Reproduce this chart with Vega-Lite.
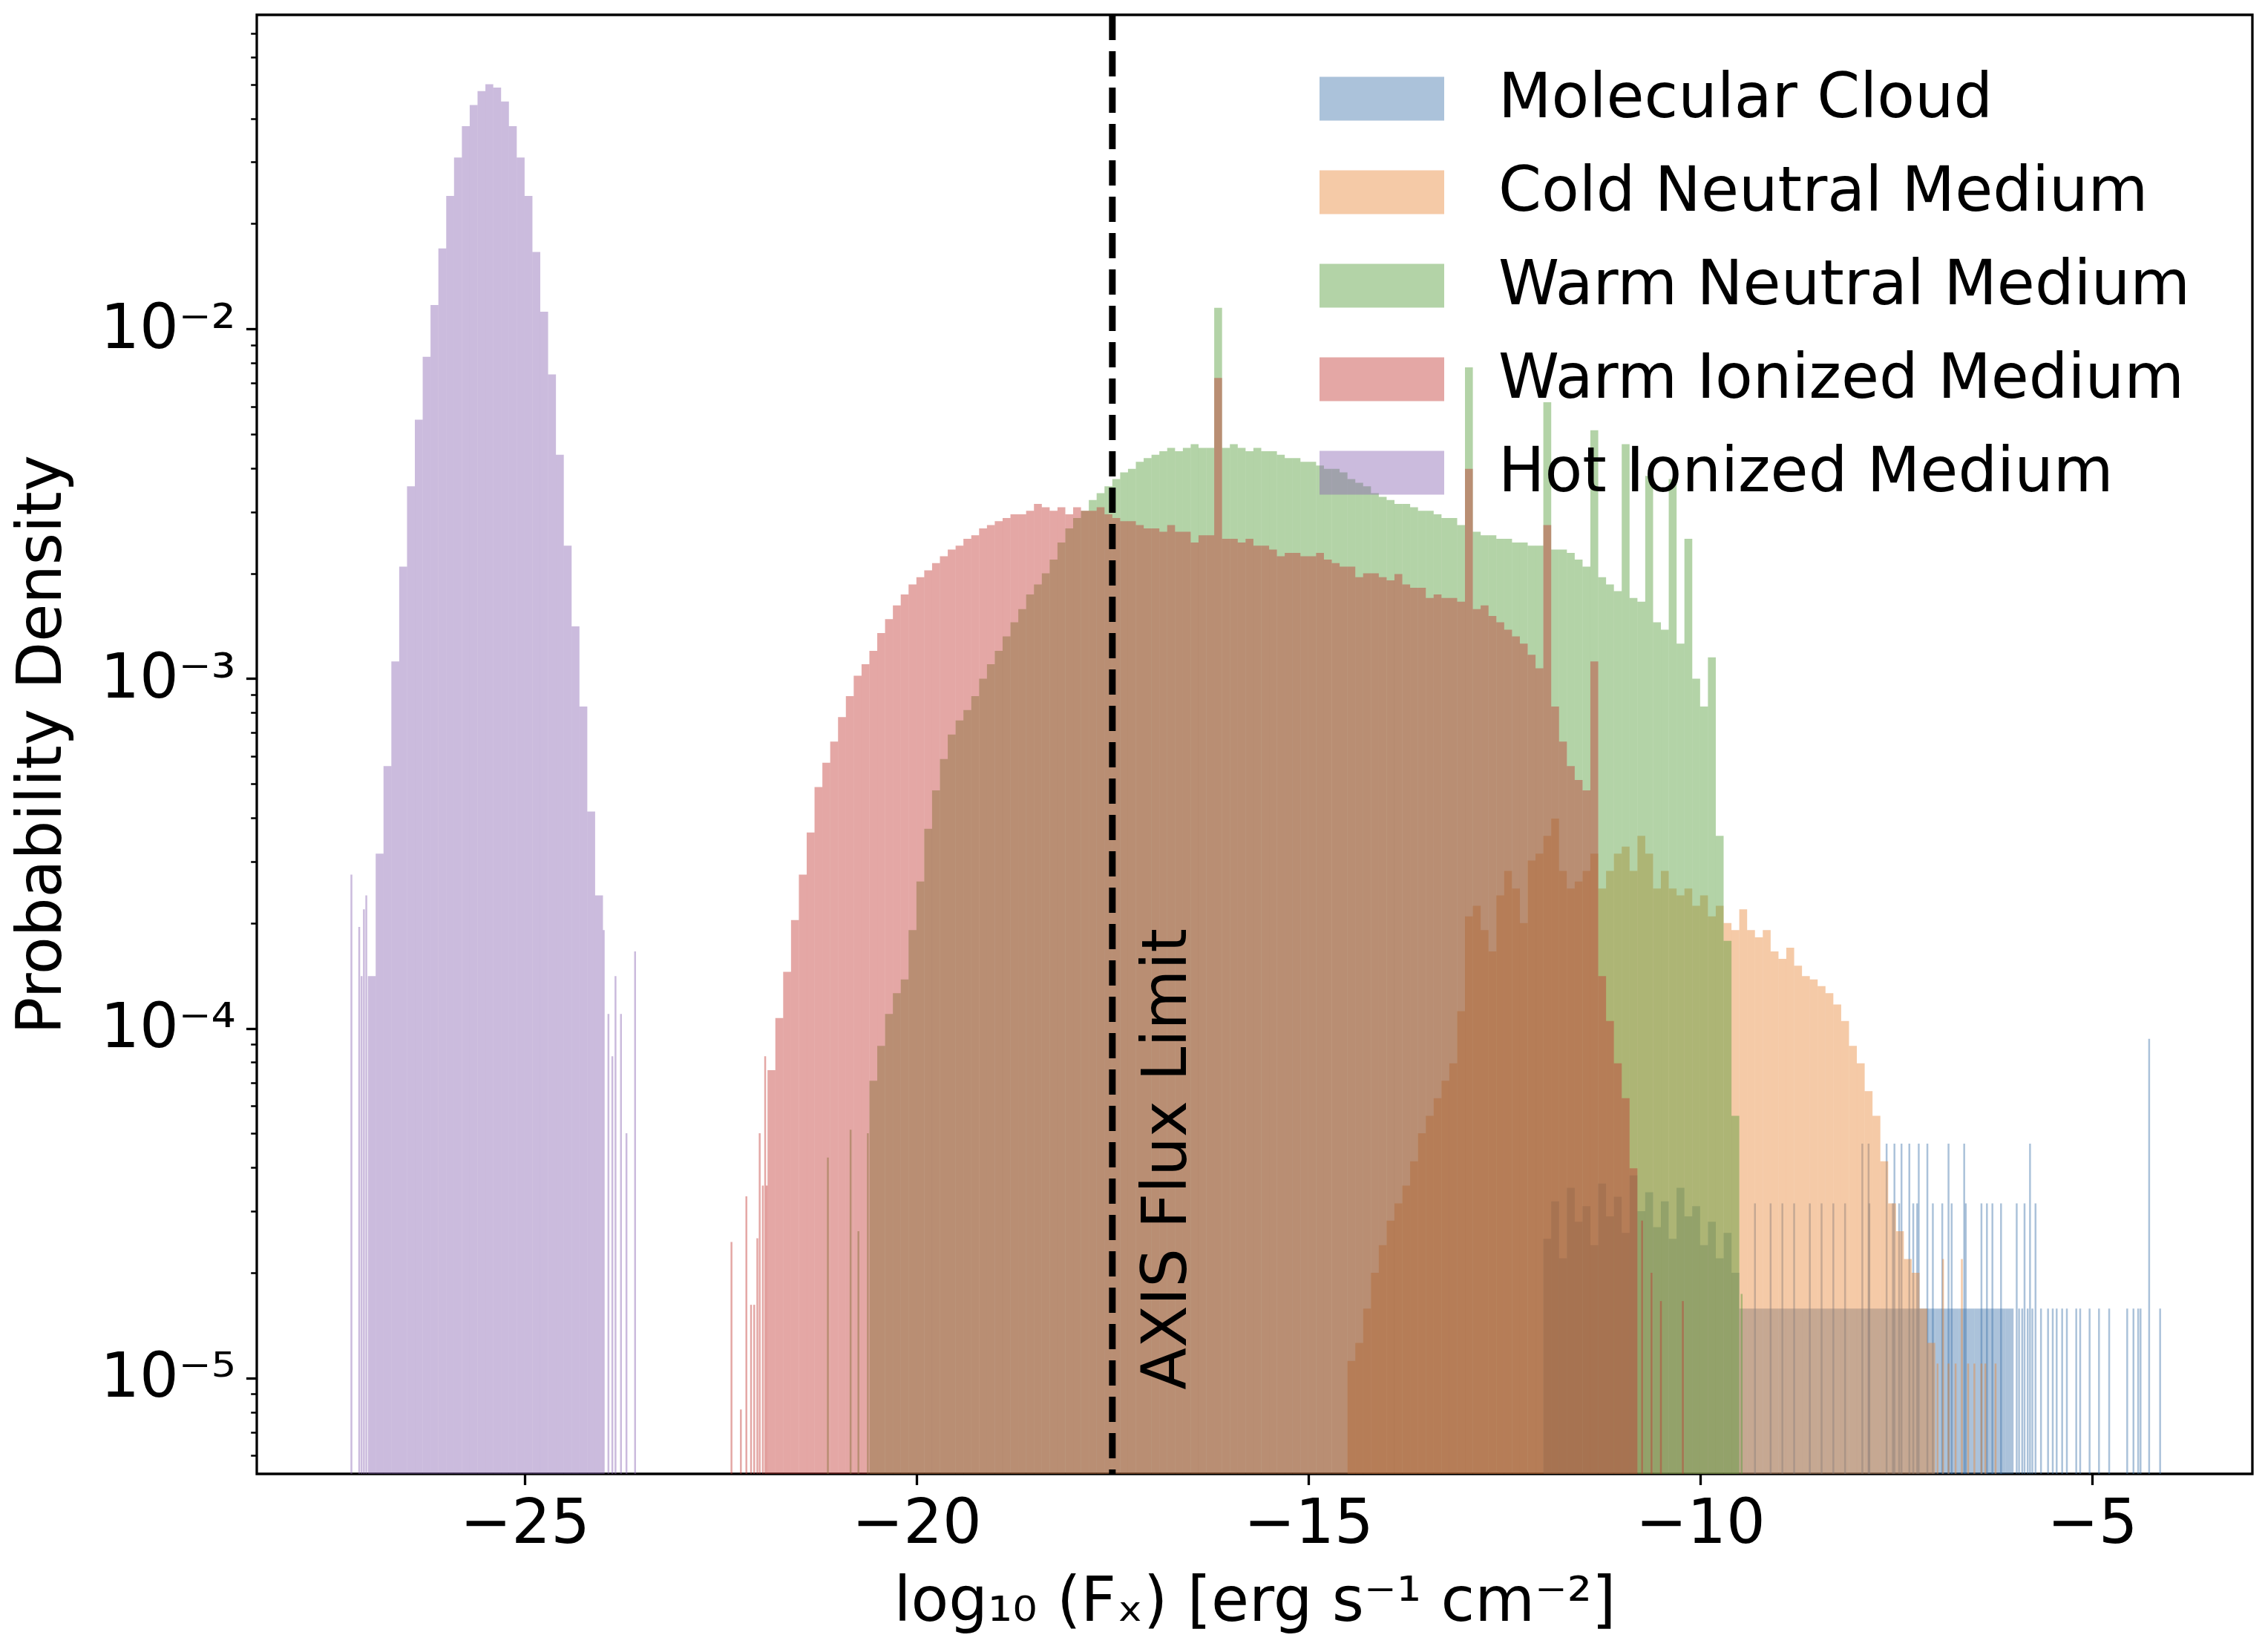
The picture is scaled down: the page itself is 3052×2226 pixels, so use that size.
{
  "$schema": "https://vega.github.io/schema/vega-lite/v6.json",
  "width": 2689,
  "height": 1966,
  "autosize": {"type": "none"},
  "padding": {"left": 346, "top": 20, "right": 17, "bottom": 240},
  "background": "white",
  "config": {
    "font": "DejaVu Sans",
    "view": {"stroke": "black", "strokeWidth": 3.3},
    "axis": {"domain": false, "grid": false, "tickColor": "black", "labelColor": "black", "titleColor": "black", "labelFont": "DejaVu Sans", "titleFont": "DejaVu Sans", "labelFontSize": 83, "titleFontSize": 83, "titleFontWeight": "normal", "labelLimit": 600}
  },
  "datasets": {
    "mc": [
      {"x":-11.95,"y":2.5e-5},{"x":-11.85,"y":3.2e-5},{"x":-11.75,"y":2.2e-5},{"x":-11.65,"y":3.5e-5},{"x":-11.55,"y":2.8e-5},
      {"x":-11.45,"y":3.1e-5},{"x":-11.35,"y":2.4e-5},{"x":-11.25,"y":3.6e-5},{"x":-11.15,"y":2.9e-5},{"x":-11.05,"y":3.3e-5},
      {"x":-10.95,"y":2.6e-5},{"x":-10.85,"y":3.8e-5},{"x":-10.75,"y":3.0e-5},{"x":-10.65,"y":3.4e-5},{"x":-10.55,"y":2.7e-5},
      {"x":-10.45,"y":3.2e-5},{"x":-10.35,"y":2.5e-5},{"x":-10.25,"y":3.5e-5},{"x":-10.15,"y":2.9e-5},{"x":-10.05,"y":3.1e-5},
      {"x":-9.95,"y":2.4e-5},{"x":-9.85,"y":2.8e-5},{"x":-9.75,"y":2.2e-5},{"x":-9.65,"y":2.6e-5},{"x":-9.55,"y":2.0e-5},
      {"x":-9.45,"y":1.58e-5},{"x":-9.35,"y":1.58e-5},{"x":-9.25,"y":1.58e-5},{"x":-9.15,"y":1.58e-5},{"x":-9.05,"y":1.58e-5},
      {"x":-8.95,"y":1.58e-5},{"x":-8.85,"y":1.58e-5},{"x":-8.75,"y":1.58e-5},{"x":-8.65,"y":1.58e-5},{"x":-8.55,"y":1.58e-5},
      {"x":-8.45,"y":1.58e-5},{"x":-8.35,"y":1.58e-5},{"x":-8.25,"y":1.58e-5},{"x":-8.15,"y":1.58e-5},{"x":-8.05,"y":1.58e-5},
      {"x":-7.95,"y":1.58e-5},{"x":-7.85,"y":1.58e-5},{"x":-7.75,"y":1.58e-5},{"x":-7.65,"y":1.58e-5},{"x":-7.55,"y":1.58e-5},
      {"x":-7.45,"y":1.58e-5},{"x":-7.35,"y":1.58e-5},{"x":-7.25,"y":1.58e-5},{"x":-7.15,"y":1.58e-5},{"x":-7.05,"y":1.58e-5},
      {"x":-6.95,"y":1.58e-5},{"x":-6.85,"y":1.58e-5},{"x":-6.75,"y":1.58e-5},{"x":-6.65,"y":1.58e-5},{"x":-6.55,"y":1.58e-5},
      {"x":-6.45,"y":1.58e-5},{"x":-6.35,"y":1.58e-5},{"x":-6.25,"y":1.58e-5},{"x":-6.15,"y":1.58e-5},{"x":-6.05,"y":1.58e-5}
    ],
    "mcl": [
      {"x":-9.3,"y":3.16e-5},{"x":-9.1,"y":3.16e-5},{"x":-8.95,"y":3.16e-5},{"x":-8.8,"y":3.16e-5},{"x":-8.6,"y":3.16e-5},
      {"x":-8.45,"y":3.16e-5},{"x":-8.3,"y":3.16e-5},{"x":-8.15,"y":3.16e-5},{"x":-7.84,"y":3.16e-5},{"x":-7.54,"y":3.16e-5},
      {"x":-7.46,"y":3.16e-5},{"x":-7.28,"y":3.16e-5},{"x":-7.23,"y":3.16e-5},{"x":-7.03,"y":3.16e-5},{"x":-6.91,"y":3.16e-5},
      {"x":-6.79,"y":3.16e-5},{"x":-6.61,"y":3.16e-5},{"x":-6.41,"y":3.16e-5},{"x":-6.34,"y":3.16e-5},{"x":-6.27,"y":3.16e-5},
      {"x":-6.16,"y":3.16e-5},{"x":-5.96,"y":3.16e-5},{"x":-5.86,"y":3.16e-5},{"x":-5.72,"y":3.16e-5},
      {"x":-7.93,"y":4.68e-5},{"x":-7.85,"y":4.68e-5},{"x":-7.62,"y":4.68e-5},{"x":-7.52,"y":4.68e-5},{"x":-7.43,"y":4.68e-5},
      {"x":-7.33,"y":4.68e-5},{"x":-7.21,"y":4.68e-5},{"x":-7.1,"y":4.68e-5},{"x":-6.83,"y":4.68e-5},{"x":-6.63,"y":4.68e-5},
      {"x":-5.79,"y":4.68e-5},
      {"x":-5.93,"y":1.58e-5},{"x":-5.89,"y":1.58e-5},{"x":-5.82,"y":1.58e-5},{"x":-5.76,"y":1.58e-5},
      {"x":-5.65,"y":1.58e-5},{"x":-5.56,"y":1.58e-5},{"x":-5.5,"y":1.58e-5},{"x":-5.45,"y":1.58e-5},{"x":-5.38,"y":1.58e-5},
      {"x":-5.32,"y":1.58e-5},{"x":-5.2,"y":1.58e-5},{"x":-5.15,"y":1.58e-5},{"x":-5.03,"y":1.58e-5},{"x":-4.91,"y":1.58e-5},
      {"x":-4.78,"y":1.58e-5},{"x":-4.55,"y":1.58e-5},{"x":-4.47,"y":1.58e-5},{"x":-4.41,"y":1.58e-5},{"x":-4.38,"y":1.58e-5},
      {"x":-4.27,"y":9.33e-5},{"x":-4.13,"y":1.58e-5}
    ],
    "cnm": [
      {"x":-14.45,"y":1.12e-5},{"x":-14.35,"y":1.26e-5},{"x":-14.25,"y":1.58e-5},{"x":-14.15,"y":2.0e-5},{"x":-14.05,"y":2.4e-5},
      {"x":-13.95,"y":2.82e-5},{"x":-13.85,"y":3.16e-5},{"x":-13.75,"y":3.55e-5},{"x":-13.65,"y":4.17e-5},{"x":-13.55,"y":5.01e-5},
      {"x":-13.45,"y":5.62e-5},{"x":-13.35,"y":6.31e-5},{"x":-13.25,"y":7.08e-5},{"x":-13.15,"y":7.94e-5},{"x":-13.05,"y":1.12e-4},
      {"x":-12.95,"y":2.09e-4},{"x":-12.85,"y":2.24e-4},{"x":-12.75,"y":1.91e-4},{"x":-12.65,"y":1.66e-4},{"x":-12.55,"y":2.4e-4},
      {"x":-12.45,"y":2.82e-4},{"x":-12.35,"y":2.51e-4},{"x":-12.25,"y":2.0e-4},{"x":-12.15,"y":3.02e-4},{"x":-12.05,"y":3.16e-4},
      {"x":-11.95,"y":3.55e-4},{"x":-11.85,"y":3.98e-4},{"x":-11.75,"y":2.82e-4},{"x":-11.65,"y":2.51e-4},{"x":-11.55,"y":2.63e-4},
      {"x":-11.45,"y":2.82e-4},{"x":-11.35,"y":3.16e-4},{"x":-11.25,"y":2.51e-4},{"x":-11.15,"y":2.82e-4},{"x":-11.05,"y":3.16e-4},
      {"x":-10.95,"y":3.31e-4},{"x":-10.85,"y":2.82e-4},{"x":-10.75,"y":3.55e-4},{"x":-10.65,"y":3.16e-4},{"x":-10.55,"y":2.51e-4},
      {"x":-10.45,"y":2.82e-4},{"x":-10.35,"y":2.51e-4},{"x":-10.25,"y":2.4e-4},{"x":-10.15,"y":2.51e-4},{"x":-10.05,"y":2.24e-4},
      {"x":-9.95,"y":2.4e-4},{"x":-9.85,"y":2.09e-4},{"x":-9.75,"y":2.24e-4},{"x":-9.65,"y":2.0e-4},{"x":-9.55,"y":1.91e-4},
      {"x":-9.45,"y":2.19e-4},{"x":-9.35,"y":1.91e-4},{"x":-9.25,"y":1.82e-4},{"x":-9.15,"y":1.91e-4},{"x":-9.05,"y":1.66e-4},
      {"x":-8.95,"y":1.58e-4},{"x":-8.85,"y":1.7e-4},{"x":-8.75,"y":1.51e-4},{"x":-8.65,"y":1.41e-4},{"x":-8.55,"y":1.38e-4},
      {"x":-8.45,"y":1.32e-4},{"x":-8.35,"y":1.26e-4},{"x":-8.25,"y":1.17e-4},{"x":-8.15,"y":1.05e-4},{"x":-8.05,"y":8.91e-5},
      {"x":-7.95,"y":7.94e-5},{"x":-7.85,"y":6.61e-5},{"x":-7.75,"y":5.62e-5},{"x":-7.65,"y":4.17e-5},{"x":-7.55,"y":3.16e-5},
      {"x":-7.45,"y":2.63e-5},{"x":-7.35,"y":2.19e-5},{"x":-7.25,"y":2.0e-5},{"x":-7.15,"y":1.58e-5},{"x":-7.05,"y":1.26e-5}
    ],
    "cnml": [
      {"x":-6.97,"y":1.1e-5},{"x":-6.9,"y":2.19e-5},{"x":-6.83,"y":1.1e-5},{"x":-6.74,"y":1.1e-5},{"x":-6.66,"y":2.19e-5},
      {"x":-6.58,"y":1.1e-5},{"x":-6.5,"y":1.1e-5},{"x":-6.41,"y":1.1e-5},{"x":-6.36,"y":1.1e-5},{"x":-6.23,"y":1.1e-5}
    ],
    "wnm": [
      {"x":-20.55,"y":7.08e-5},{"x":-20.45,"y":8.91e-5},{"x":-20.35,"y":1.1e-4},{"x":-20.25,"y":1.26e-4},{"x":-20.15,"y":1.38e-4},
      {"x":-20.05,"y":1.91e-4},{"x":-19.95,"y":2.63e-4},{"x":-19.85,"y":3.72e-4},{"x":-19.75,"y":4.79e-4},{"x":-19.65,"y":5.89e-4},
      {"x":-19.55,"y":6.92e-4},{"x":-19.45,"y":7.59e-4},{"x":-19.35,"y":8.13e-4},{"x":-19.25,"y":8.91e-4},{"x":-19.15,"y":1.0e-3},
      {"x":-19.05,"y":1.1e-3},{"x":-18.95,"y":1.2e-3},{"x":-18.85,"y":1.32e-3},{"x":-18.75,"y":1.45e-3},{"x":-18.65,"y":1.58e-3},
      {"x":-18.55,"y":1.74e-3},{"x":-18.45,"y":1.86e-3},{"x":-18.35,"y":2.0e-3},{"x":-18.25,"y":2.19e-3},{"x":-18.15,"y":2.45e-3},
      {"x":-18.05,"y":2.69e-3},{"x":-17.95,"y":2.88e-3},{"x":-17.85,"y":3.02e-3},{"x":-17.75,"y":3.24e-3},{"x":-17.65,"y":3.39e-3},
      {"x":-17.55,"y":3.55e-3},{"x":-17.45,"y":3.72e-3},{"x":-17.35,"y":3.89e-3},{"x":-17.25,"y":3.98e-3},{"x":-17.15,"y":4.17e-3},
      {"x":-17.05,"y":4.27e-3},{"x":-16.95,"y":4.37e-3},{"x":-16.85,"y":4.47e-3},{"x":-16.75,"y":4.57e-3},{"x":-16.65,"y":4.47e-3},
      {"x":-16.55,"y":4.57e-3},{"x":-16.45,"y":4.68e-3},{"x":-16.35,"y":4.57e-3},{"x":-16.25,"y":4.57e-3},{"x":-16.15,"y":1.15e-2},
      {"x":-16.05,"y":4.57e-3},{"x":-15.95,"y":4.68e-3},{"x":-15.85,"y":4.57e-3},{"x":-15.75,"y":4.47e-3},{"x":-15.65,"y":4.57e-3},
      {"x":-15.55,"y":4.47e-3},{"x":-15.45,"y":4.47e-3},{"x":-15.35,"y":4.37e-3},{"x":-15.25,"y":4.27e-3},{"x":-15.15,"y":4.27e-3},
      {"x":-15.05,"y":4.17e-3},{"x":-14.95,"y":4.17e-3},{"x":-14.85,"y":4.07e-3},{"x":-14.75,"y":3.98e-3},{"x":-14.65,"y":3.98e-3},
      {"x":-14.55,"y":3.89e-3},{"x":-14.45,"y":3.72e-3},{"x":-14.35,"y":3.63e-3},{"x":-14.25,"y":3.55e-3},{"x":-14.15,"y":3.39e-3},
      {"x":-14.05,"y":3.31e-3},{"x":-13.95,"y":3.24e-3},{"x":-13.85,"y":3.16e-3},{"x":-13.75,"y":3.16e-3},{"x":-13.65,"y":3.09e-3},
      {"x":-13.55,"y":3.02e-3},{"x":-13.45,"y":3.02e-3},{"x":-13.35,"y":2.95e-3},{"x":-13.25,"y":2.88e-3},{"x":-13.15,"y":2.88e-3},
      {"x":-13.05,"y":2.75e-3},{"x":-12.95,"y":7.76e-3},{"x":-12.85,"y":2.63e-3},{"x":-12.75,"y":2.57e-3},{"x":-12.65,"y":2.57e-3},
      {"x":-12.55,"y":2.51e-3},{"x":-12.45,"y":2.51e-3},{"x":-12.35,"y":2.45e-3},{"x":-12.25,"y":2.45e-3},{"x":-12.15,"y":2.4e-3},
      {"x":-12.05,"y":2.4e-3},{"x":-11.95,"y":6.17e-3},{"x":-11.85,"y":2.34e-3},{"x":-11.75,"y":2.34e-3},{"x":-11.65,"y":2.29e-3},
      {"x":-11.55,"y":2.19e-3},{"x":-11.45,"y":2.09e-3},{"x":-11.35,"y":5.13e-3},{"x":-11.25,"y":1.95e-3},{"x":-11.15,"y":1.86e-3},
      {"x":-11.05,"y":1.78e-3},{"x":-10.95,"y":4.68e-3},{"x":-10.85,"y":1.7e-3},{"x":-10.75,"y":1.66e-3},{"x":-10.65,"y":3.8e-3},
      {"x":-10.55,"y":1.45e-3},{"x":-10.45,"y":1.38e-3},{"x":-10.35,"y":3.72e-3},{"x":-10.25,"y":1.26e-3},{"x":-10.15,"y":2.51e-3},
      {"x":-10.05,"y":1.0e-3},{"x":-9.95,"y":8.32e-4},{"x":-9.85,"y":1.15e-3},{"x":-9.75,"y":3.55e-4},{"x":-9.65,"y":1.78e-4},
      {"x":-9.55,"y":5.62e-5}
    ],
    "wnml": [
      {"x":-21.13,"y":4.27e-5},{"x":-20.84,"y":5.13e-5},{"x":-20.74,"y":2.63e-5},{"x":-20.62,"y":5.01e-5},{"x":-9.47,"y":1.74e-5}
    ],
    "wim": [
      {"x":-21.85,"y":7.59e-5},{"x":-21.75,"y":1.07e-4},{"x":-21.65,"y":1.45e-4},{"x":-21.55,"y":2.04e-4},{"x":-21.45,"y":2.75e-4},
      {"x":-21.35,"y":3.63e-4},{"x":-21.25,"y":4.9e-4},{"x":-21.15,"y":5.75e-4},{"x":-21.05,"y":6.61e-4},{"x":-20.95,"y":7.76e-4},
      {"x":-20.85,"y":8.91e-4},{"x":-20.75,"y":1.02e-3},{"x":-20.65,"y":1.1e-3},{"x":-20.55,"y":1.2e-3},{"x":-20.45,"y":1.35e-3},
      {"x":-20.35,"y":1.48e-3},{"x":-20.25,"y":1.62e-3},{"x":-20.15,"y":1.74e-3},{"x":-20.05,"y":1.86e-3},{"x":-19.95,"y":1.95e-3},
      {"x":-19.85,"y":2.04e-3},{"x":-19.75,"y":2.14e-3},{"x":-19.65,"y":2.24e-3},{"x":-19.55,"y":2.34e-3},{"x":-19.45,"y":2.4e-3},
      {"x":-19.35,"y":2.51e-3},{"x":-19.25,"y":2.57e-3},{"x":-19.15,"y":2.69e-3},{"x":-19.05,"y":2.75e-3},{"x":-18.95,"y":2.82e-3},
      {"x":-18.85,"y":2.88e-3},{"x":-18.75,"y":2.95e-3},{"x":-18.65,"y":2.95e-3},{"x":-18.55,"y":3.02e-3},{"x":-18.45,"y":3.16e-3},
      {"x":-18.35,"y":3.09e-3},{"x":-18.25,"y":3.02e-3},{"x":-18.15,"y":3.09e-3},{"x":-18.05,"y":2.95e-3},{"x":-17.95,"y":3.09e-3},
      {"x":-17.85,"y":3.02e-3},{"x":-17.75,"y":3.02e-3},{"x":-17.65,"y":3.09e-3},{"x":-17.55,"y":2.95e-3},{"x":-17.45,"y":2.88e-3},
      {"x":-17.35,"y":2.82e-3},{"x":-17.25,"y":2.82e-3},{"x":-17.15,"y":2.75e-3},{"x":-17.05,"y":2.69e-3},{"x":-16.95,"y":2.69e-3},
      {"x":-16.85,"y":2.63e-3},{"x":-16.75,"y":2.75e-3},{"x":-16.65,"y":2.63e-3},{"x":-16.55,"y":2.63e-3},{"x":-16.45,"y":2.45e-3},
      {"x":-16.35,"y":2.57e-3},{"x":-16.25,"y":2.57e-3},{"x":-16.15,"y":7.24e-3},{"x":-16.05,"y":2.51e-3},{"x":-15.95,"y":2.51e-3},
      {"x":-15.85,"y":2.45e-3},{"x":-15.75,"y":2.51e-3},{"x":-15.65,"y":2.4e-3},{"x":-15.55,"y":2.4e-3},{"x":-15.45,"y":2.34e-3},
      {"x":-15.35,"y":2.24e-3},{"x":-15.25,"y":2.29e-3},{"x":-15.15,"y":2.29e-3},{"x":-15.05,"y":2.24e-3},{"x":-14.95,"y":2.24e-3},
      {"x":-14.85,"y":2.29e-3},{"x":-14.75,"y":2.19e-3},{"x":-14.65,"y":2.14e-3},{"x":-14.55,"y":2.09e-3},{"x":-14.45,"y":2.09e-3},
      {"x":-14.35,"y":1.95e-3},{"x":-14.25,"y":2.0e-3},{"x":-14.15,"y":2.0e-3},{"x":-14.05,"y":1.95e-3},{"x":-13.95,"y":1.91e-3},
      {"x":-13.85,"y":1.99e-3},{"x":-13.75,"y":1.86e-3},{"x":-13.65,"y":1.82e-3},{"x":-13.55,"y":1.82e-3},{"x":-13.45,"y":1.7e-3},
      {"x":-13.35,"y":1.74e-3},{"x":-13.25,"y":1.7e-3},{"x":-13.15,"y":1.7e-3},{"x":-13.05,"y":1.66e-3},{"x":-12.95,"y":3.98e-3},
      {"x":-12.85,"y":1.58e-3},{"x":-12.75,"y":1.62e-3},{"x":-12.65,"y":1.51e-3},{"x":-12.55,"y":1.45e-3},{"x":-12.45,"y":1.38e-3},
      {"x":-12.35,"y":1.32e-3},{"x":-12.25,"y":1.26e-3},{"x":-12.15,"y":1.17e-3},{"x":-12.05,"y":1.07e-3},{"x":-11.95,"y":2.75e-3},
      {"x":-11.85,"y":8.32e-4},{"x":-11.75,"y":6.61e-4},{"x":-11.65,"y":5.62e-4},{"x":-11.55,"y":5.13e-4},{"x":-11.45,"y":4.79e-4},
      {"x":-11.35,"y":1.12e-3},{"x":-11.25,"y":1.41e-4},{"x":-11.15,"y":1.05e-4},{"x":-11.05,"y":7.94e-5},{"x":-10.95,"y":6.31e-5},
      {"x":-10.85,"y":3.98e-5}
    ],
    "wiml": [
      {"x":-22.36,"y":2.45e-5},{"x":-22.24,"y":8.13e-6},{"x":-22.17,"y":3.31e-5},{"x":-22.11,"y":1.62e-5},{"x":-22.07,"y":1.62e-5},
      {"x":-22.03,"y":2.51e-5},{"x":-22.0,"y":5.01e-5},{"x":-21.96,"y":3.55e-5},{"x":-21.93,"y":8.32e-5},{"x":-21.91,"y":3.55e-5},
      {"x":-10.74,"y":2.82e-5},{"x":-10.62,"y":2.0e-5},{"x":-10.5,"y":1.66e-5},{"x":-10.22,"y":1.66e-5}
    ],
    "him": [
      {"x":-26.95,"y":1.41e-4},{"x":-26.85,"y":3.16e-4},{"x":-26.75,"y":5.62e-4},{"x":-26.65,"y":1.12e-3},{"x":-26.55,"y":2.09e-3},
      {"x":-26.45,"y":3.55e-3},{"x":-26.35,"y":5.5e-3},{"x":-26.25,"y":8.32e-3},{"x":-26.15,"y":1.17e-2},{"x":-26.05,"y":1.7e-2},
      {"x":-25.95,"y":2.4e-2},{"x":-25.85,"y":3.09e-2},{"x":-25.75,"y":3.8e-2},{"x":-25.65,"y":4.37e-2},{"x":-25.55,"y":4.79e-2},
      {"x":-25.45,"y":5.01e-2},{"x":-25.35,"y":4.9e-2},{"x":-25.25,"y":4.47e-2},{"x":-25.15,"y":3.8e-2},{"x":-25.05,"y":3.09e-2},
      {"x":-24.95,"y":2.4e-2},{"x":-24.85,"y":1.66e-2},{"x":-24.75,"y":1.12e-2},{"x":-24.65,"y":7.41e-3},{"x":-24.55,"y":4.37e-3},
      {"x":-24.45,"y":2.4e-3},{"x":-24.35,"y":1.41e-3},{"x":-24.25,"y":8.32e-4},{"x":-24.15,"y":4.17e-4},{"x":-24.05,"y":2.4e-4}
    ],
    "himl": [
      {"x":-27.21,"y":2.75e-4},{"x":-27.11,"y":1.95e-4},{"x":-27.08,"y":1.41e-4},{"x":-27.05,"y":2.19e-4},{"x":-27.02,"y":2.4e-4},
      {"x":-23.99,"y":1.91e-4},{"x":-23.93,"y":1.1e-4},{"x":-23.88,"y":8.32e-5},{"x":-23.84,"y":1.41e-4},{"x":-23.77,"y":1.1e-4},
      {"x":-23.7,"y":5.01e-5},{"x":-23.59,"y":1.66e-4}
    ]
  },
  "layer": [
    {
      "data": {"name": "mc"},
      "mark": {"type": "bar", "width": 10.6, "opacity": 0.44},
      "encoding": {
        "x": {
          "field": "x", "type": "quantitative",
          "scale": {"domain": [-28.37, -3.0], "nice": false, "zero": false},
          "axis": {
            "values": [-25, -20, -15, -10, -5],
            "format": "d",
            "tickSize": 14.6, "tickWidth": 3.3,
            "labelPadding": 12, "labelFlush": false,
            "title": "log₁₀ (Fₓ) [erg s⁻¹ cm⁻²]",
            "titlePadding": 22
          }
        },
        "y": {
          "field": "y", "type": "quantitative",
          "scale": {"type": "log", "domain": [5.32e-6, 0.0791], "nice": false},
          "axis": {
            "values": [6e-6, 7e-6, 8e-6, 9e-6, 1e-5, 2e-5, 3e-5, 4e-5, 5e-5, 6e-5, 7e-5, 8e-5, 9e-5, 1e-4, 2e-4, 3e-4, 4e-4, 5e-4, 6e-4, 7e-4, 8e-4, 9e-4, 1e-3, 2e-3, 3e-3, 4e-3, 5e-3, 6e-3, 7e-3, 8e-3, 9e-3, 1e-2, 2e-2, 3e-2, 4e-2, 5e-2, 6e-2, 7e-2],
            "labelExpr": "abs(log(datum.value)/LN10 + 2) < 0.001 ? '10⁻²' : abs(log(datum.value)/LN10 + 3) < 0.001 ? '10⁻³' : abs(log(datum.value)/LN10 + 4) < 0.001 ? '10⁻⁴' : abs(log(datum.value)/LN10 + 5) < 0.001 ? '10⁻⁵' : ''",
            "tickSize": {"condition": {"test": "abs(log(datum.value)/LN10 - round(log(datum.value)/LN10)) < 0.001", "value": 14.6}, "value": 8.3},
            "tickWidth": {"condition": {"test": "abs(log(datum.value)/LN10 - round(log(datum.value)/LN10)) < 0.001", "value": 3.3}, "value": 2.5},
            "labelOverlap": false, "labelFlush": false,
            "labelLimit": 600,
            "labelPadding": 14,
            "title": "Probability Density",
            "titlePadding": 48
          }
        },
        "y2": {"datum": 5.32e-6},
        "color": {
          "datum": "Molecular Cloud",
          "scale": {
            "domain": ["Molecular Cloud", "Cold Neutral Medium", "Warm Neutral Medium", "Warm Ionized Medium", "Hot Ionized Medium"],
            "range": ["#3f75ab", "#e98737", "#519b37", "#c13731", "#8965b1"]
          },
          "legend": {
            "orient": "none", "legendX": 1432, "legendY": 29,
            "title": null, "padding": 0,
            "symbolType": "M-1,-0.35L1,-0.35L1,0.35L-1,0.35Z",
            "symbolSize": 28224, "symbolOpacity": 0.5, "symbolStrokeWidth": 0,
            "labelFontSize": 83, "labelFont": "DejaVu Sans", "labelColor": "black",
            "labelOffset": 73, "rowPadding": -2, "labelLimit": 0
          }
        }
      }
    },
    {
      "data": {"name": "mcl"},
      "mark": {"type": "bar", "width": 2.5, "opacity": 0.44},
      "encoding": {
        "x": {"field": "x", "type": "quantitative"},
        "y": {"field": "y", "type": "quantitative"},
        "y2": {"datum": 5.32e-6},
        "color": {"datum": "Molecular Cloud"}
      }
    },
    {
      "data": {"name": "cnm"},
      "mark": {"type": "bar", "width": 10.6, "opacity": 0.44},
      "encoding": {
        "x": {"field": "x", "type": "quantitative"},
        "y": {"field": "y", "type": "quantitative"},
        "y2": {"datum": 5.32e-6},
        "color": {"datum": "Cold Neutral Medium"}
      }
    },
    {
      "data": {"name": "cnml"},
      "mark": {"type": "bar", "width": 2.5, "opacity": 0.44},
      "encoding": {
        "x": {"field": "x", "type": "quantitative"},
        "y": {"field": "y", "type": "quantitative"},
        "y2": {"datum": 5.32e-6},
        "color": {"datum": "Cold Neutral Medium"}
      }
    },
    {
      "data": {"name": "wnm"},
      "mark": {"type": "bar", "width": 10.6, "opacity": 0.44},
      "encoding": {
        "x": {"field": "x", "type": "quantitative"},
        "y": {"field": "y", "type": "quantitative"},
        "y2": {"datum": 5.32e-6},
        "color": {"datum": "Warm Neutral Medium"}
      }
    },
    {
      "data": {"name": "wnml"},
      "mark": {"type": "bar", "width": 2.5, "opacity": 0.44},
      "encoding": {
        "x": {"field": "x", "type": "quantitative"},
        "y": {"field": "y", "type": "quantitative"},
        "y2": {"datum": 5.32e-6},
        "color": {"datum": "Warm Neutral Medium"}
      }
    },
    {
      "data": {"name": "wim"},
      "mark": {"type": "bar", "width": 10.6, "opacity": 0.44},
      "encoding": {
        "x": {"field": "x", "type": "quantitative"},
        "y": {"field": "y", "type": "quantitative"},
        "y2": {"datum": 5.32e-6},
        "color": {"datum": "Warm Ionized Medium"}
      }
    },
    {
      "data": {"name": "wiml"},
      "mark": {"type": "bar", "width": 2.5, "opacity": 0.44},
      "encoding": {
        "x": {"field": "x", "type": "quantitative"},
        "y": {"field": "y", "type": "quantitative"},
        "y2": {"datum": 5.32e-6},
        "color": {"datum": "Warm Ionized Medium"}
      }
    },
    {
      "data": {"name": "him"},
      "mark": {"type": "bar", "width": 10.6, "opacity": 0.44},
      "encoding": {
        "x": {"field": "x", "type": "quantitative"},
        "y": {"field": "y", "type": "quantitative"},
        "y2": {"datum": 5.32e-6},
        "color": {"datum": "Hot Ionized Medium"}
      }
    },
    {
      "data": {"name": "himl"},
      "mark": {"type": "bar", "width": 2.5, "opacity": 0.44},
      "encoding": {
        "x": {"field": "x", "type": "quantitative"},
        "y": {"field": "y", "type": "quantitative"},
        "y2": {"datum": 5.32e-6},
        "color": {"datum": "Hot Ionized Medium"}
      }
    },
    {
      "data": {"values": [{}]},
      "mark": {"type": "rule", "color": "black", "strokeWidth": 9, "strokeDash": [34, 15]},
      "encoding": {"x": {"datum": -17.5, "type": "quantitative"}}
    },
    {
      "data": {"values": [{}]},
      "mark": {"type": "text", "angle": 270, "align": "left", "baseline": "alphabetic", "fontSize": 83, "font": "DejaVu Sans", "color": "black"},
      "encoding": {
        "x": {"datum": -16.56, "type": "quantitative"},
        "y": {"datum": 9.25e-6, "type": "quantitative"},
        "text": {"value": "AXIS Flux Limit"}
      }
    }
  ]
}
